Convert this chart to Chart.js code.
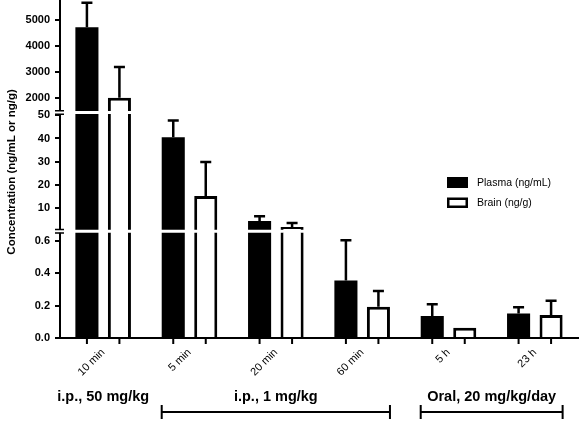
<!DOCTYPE html>
<html>
<head>
<meta charset="utf-8">
<script src="https://cdn.jsdelivr.net/npm/chart.js@4.4.0/dist/chart.umd.min.js"></script>
<style>
  html, body { margin: 0; padding: 0; background: #fff; }
</style>
</head>
<body>
<canvas id="conc-chart" width="581" height="424"></canvas>
<script>
var FONT = '"Liberation Sans", Arial, sans-serif';

var labels = ['10 min', '5 min', '20 min', '60 min', '5 h', '23 h'];
var plasma = [4700, 40.5, 4.4, 0.355, 0.136, 0.152];
var plasmaSd = [940, 7.3, 2.1, 0.25, 0.072, 0.038];
var brain = [2000, 15.2, 1.9, 0.193, 0.064, 0.142];
var brainSd = [1180, 14.7, 1.7, 0.097, 0, 0.088];

var topTicks = [2000, 3000, 4000, 5000];
var midTicks = [10, 20, 30, 40, 50];
var lowTicks = [0, 0.2, 0.4, 0.6];

var groups = [
    { label: 'i.p., 50 mg/kg', from: 0, to: 0, bracket: false },
    { label: 'i.p., 1 mg/kg', from: 1, to: 3, bracket: true },
    { label: 'Oral, 20 mg/kg/day', from: 4, to: 5, bracket: true }
];

// broken y axis: three stacked scales, top to bottom
var segments = [
    { id: 'yTop', min: 1430, max: 5750, weight: 112.5, ticks: topTicks },
    { id: 'yMid', min: 0, max: 51.2, weight: 118.8, ticks: midTicks },
    { id: 'yLow', min: 0, max: 0.66, weight: 106.7, ticks: lowTicks }
];

function clipFor(i) {
    return {
        left: false,
        right: false,
        top: i === 0 ? false : -1.5,
        bottom: i === segments.length - 1 ? false : -1.5
    };
}

var datasets = [];
segments.forEach(function (seg, i) {
    datasets.push({
        label: 'Plasma (ng/mL)',
        data: plasma,
        sd: plasmaSd,
        yAxisID: seg.id,
        stack: 'plasma',
        backgroundColor: '#000',
        borderWidth: 0,
        clip: clipFor(i)
    });
    datasets.push({
        label: 'Brain (ng/g)',
        data: brain,
        sd: brainSd,
        yAxisID: seg.id,
        stack: 'brain',
        backgroundColor: '#fff',
        borderColor: '#000',
        borderWidth: 3,
        borderSkipped: 'start',
        clip: clipFor(i)
    });
});

var scales = {
    x: {
        type: 'category',
        offset: true,
        grid: { display: false },
        border: { display: true, color: '#000', width: 2 },
        ticks: {
            color: '#000',
            maxRotation: 45,
            minRotation: 45,
            padding: 0,
            font: { family: FONT, size: 11 }
        },
        afterFit: function (s) { s.height = 86; s.paddingLeft = 0; s.paddingRight = 0; }
    }
};

segments.forEach(function (seg, i) {
    scales[seg.id] = {
        type: 'linear',
        position: 'left',
        stack: 'conc',
        stackWeight: seg.weight,
        weight: segments.length - i,
        min: seg.min,
        max: seg.max,
        stacked: false,
        afterBuildTicks: function (s) {
            s.ticks = seg.ticks.map(function (v) { return { value: v }; });
        },
        afterFit: function (s) { s.width = 60; s.paddingTop = 0; s.paddingBottom = 0; },
        border: { display: true, color: '#000', width: 2 },
        grid: { drawOnChartArea: false, drawTicks: true, tickLength: 5, color: '#000', lineWidth: 2 },
        ticks: {
            color: '#000',
            padding: 5,
            font: { family: FONT, size: 11, weight: 'bold' },
            callback: function (v) { return seg.id === 'yLow' ? Number(v).toFixed(1) : String(v); }
        },
        title: {
            display: seg.id === 'yMid',
            text: 'Concentration (ng/mL or ng/g)',
            color: '#000',
            padding: { top: 5, bottom: 0 },
            font: { family: FONT, size: 11.5, weight: 'bold' }
        }
    };
});

function valuePixel(chart, v) {
    var seg = segments[0];
    for (var i = segments.length - 1; i >= 0; i--) {
        if (v <= segments[i].max) { seg = segments[i]; break; }
    }
    return chart.scales[seg.id].getPixelForValue(v);
}

var extrasPlugin = {
    id: 'extras',
    afterDatasetsDraw: function (chart) {
        var ctx = chart.ctx;
        ctx.save();
        ctx.strokeStyle = '#000';
        ctx.lineWidth = 2.5;
        [0, 1].forEach(function (di) {
            var ds = chart.data.datasets[di];
            var meta = chart.getDatasetMeta(di);
            meta.data.forEach(function (bar, i) {
                if (!ds.sd[i]) return;
                var y0 = valuePixel(chart, ds.data[i]);
                var y1 = valuePixel(chart, ds.data[i] + ds.sd[i]);
                ctx.beginPath();
                ctx.moveTo(bar.x, y0);
                ctx.lineTo(bar.x, y1);
                ctx.moveTo(bar.x - 5.5, y1);
                ctx.lineTo(bar.x + 5.5, y1);
                ctx.stroke();
            });
        });
        ctx.restore();
    },
    afterDraw: function (chart) {
        var ctx = chart.ctx;
        var area = chart.chartArea;
        var axisX = area.left;
        ctx.save();
        ctx.strokeStyle = '#000';
        ctx.fillStyle = '#000';

        // axis breaks
        for (var i = 1; i < segments.length; i++) {
            var b = chart.scales[segments[i].id].top;
            ctx.fillStyle = '#fff';
            ctx.fillRect(axisX - 4, b - 1.5, 8, 3);
            ctx.lineWidth = 1.5;
            ctx.beginPath();
            ctx.moveTo(axisX - 5, b - 1.8);
            ctx.lineTo(axisX + 4, b - 1.8);
            ctx.moveTo(axisX - 5, b + 1.8);
            ctx.lineTo(axisX + 4, b + 1.8);
            ctx.stroke();
        }

        // x tick marks under each bar
        var pMeta = chart.getDatasetMeta(0);
        var bMeta = chart.getDatasetMeta(1);
        ctx.lineWidth = 2;
        ctx.beginPath();
        pMeta.data.concat(bMeta.data).forEach(function (bar) {
            ctx.moveTo(bar.x, area.bottom);
            ctx.lineTo(bar.x, area.bottom + 6);
        });
        ctx.stroke();

        // dose group labels and brackets
        ctx.fillStyle = '#000';
        ctx.font = 'bold 14.5px ' + FONT;
        ctx.textAlign = 'center';
        ctx.textBaseline = 'middle';
        groups.forEach(function (g) {
            var p = pMeta.data[g.from], q = bMeta.data[g.to];
            var left = p.x - p.width / 2, right = q.x + q.width / 2;
            var cx = g.bracket ? (left + right) / 2 : chart.scales.x.getPixelForValue(g.from);
            ctx.fillText(g.label, cx, 397);
            if (g.bracket) {
                ctx.lineWidth = 2;
                ctx.beginPath();
                ctx.moveTo(left, 412);
                ctx.lineTo(right, 412);
                ctx.moveTo(left, 405);
                ctx.lineTo(left, 419);
                ctx.moveTo(right, 405);
                ctx.lineTo(right, 419);
                ctx.stroke();
            }
        });

        // legend
        ctx.font = '10.5px ' + FONT;
        ctx.textAlign = 'left';
        ctx.fillStyle = '#000';
        ctx.fillRect(447, 177, 21, 11);
        ctx.fillText(chart.data.datasets[0].label, 477, 183);
        ctx.lineWidth = 2.5;
        ctx.strokeRect(448.25, 198.75, 18.5, 8);
        ctx.fillText(chart.data.datasets[1].label, 477, 203);
        ctx.restore();
    }
};

new Chart(document.getElementById('conc-chart'), {
    type: 'bar',
    data: { labels: labels, datasets: datasets },
    options: {
        responsive: false,
        animation: false,
        devicePixelRatio: 1,
        categoryPercentage: 0.753,
        barPercentage: 0.71,
        layout: { padding: { top: 0, left: 0, right: 3, bottom: 0 } },
        plugins: { legend: { display: false }, tooltip: { enabled: false } },
        scales: scales
    },
    plugins: [extrasPlugin]
});
</script>
</body>
</html>
